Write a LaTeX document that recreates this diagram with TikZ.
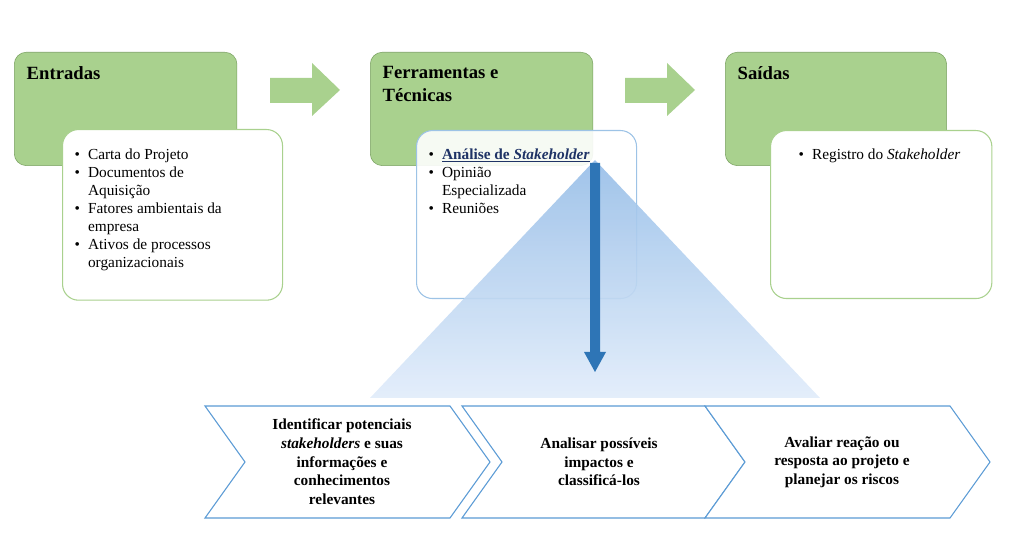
\documentclass[tikz,border=0pt]{standalone}
\usepackage{fontspec}
\setmainfont{Liberation Serif}
\definecolor{gfill}{RGB}{169,209,142}
\definecolor{gdraw}{RGB}{120,160,95}
\definecolor{bline}{RGB}{91,155,213}
\definecolor{btop}{RGB}{150,190,232}
\definecolor{bbot}{RGB}{225,236,250}
\definecolor{barrow}{RGB}{46,117,182}
\definecolor{blight}{RGB}{157,195,230}
\begin{document}
\begin{tikzpicture}[x=0.75pt,y=-0.75pt,
 gbox/.style={draw=gdraw, fill=gfill, rounded corners=9pt},
 wbox/.style={draw=gfill, fill=white, rounded corners=12pt, line width=0.8pt},
 ttl/.style={anchor=north west, font=\bfseries\fontsize{14}{17}\selectfont, align=left},
 lst/.style={anchor=north west, font=\fontsize{11.5}{13.5}\selectfont, align=left},
 blk/.style={fill=gfill},
 chev/.style={draw=bline, fill=white, line width=0.8pt},
 ctxt/.style={font=\bfseries\fontsize{11.5}{14}\selectfont, align=center}]
\useasboundingbox (0,0) rectangle (1024,555);
% green boxes
\node[gbox, minimum width=167pt, minimum height=85pt, anchor=north west] (g1) at (14,52) {};
\node[gbox, minimum width=167pt, minimum height=85pt, anchor=north west] (g2) at (370,52) {};
\node[gbox, minimum width=166pt, minimum height=85pt, anchor=north west] (g3) at (725,52) {};
\node[ttl] (t1) at (22,62) {Entradas};
\node[ttl] (t2) at (378,62) {Ferramentas e\\Técnicas};
\node[ttl] (t3) at (733,62) {Saídas};
% block arrows
\fill[blk] (270,78) -- (312,78) -- (312,63) -- (340,90) -- (312,116) -- (312,103) -- (270,103) -- cycle;
\fill[blk] (625,78) -- (667,78) -- (667,63) -- (695,90) -- (667,116) -- (667,103) -- (625,103) -- cycle;
% white boxes
\node[wbox, minimum width=165pt, minimum height=128pt, anchor=north west] (w1) at (62,129) {};
\node[wbox, draw=blight, fill opacity=0.9, minimum width=165pt, minimum height=126pt, anchor=north west] (w2) at (416,130) {};
\node[wbox, minimum width=166pt, minimum height=126pt, anchor=north west] (w3) at (770,130) {};
\node[lst] (l1) at (70,142) {\begin{tabular}{@{}l@{\hspace{6pt}}l@{}}
\textbullet& Carta do Projeto\\
\textbullet& Documentos de\\& Aquisição\\
\textbullet& Fatores ambientais da\\& empresa\\
\textbullet& Ativos de processos\\& organizacionais\end{tabular}};
\node[lst] (l3) at (794,142) {\begin{tabular}{@{}l@{\hspace{6pt}}l@{}}
\textbullet& Registro do \textit{Stakeholder}\end{tabular}};
% triangle
\shade[top color=btop, bottom color=bbot, opacity=0.9]
 (595,160) -- (820,398) -- (370,398) -- cycle;
\node[lst] (l2) at (424,142) {\begin{tabular}{@{}l@{\hspace{6pt}}l@{}}
\textbullet& \textcolor[rgb]{0.12,0.2,0.4}{\bfseries\underline{Análise de \textit{Stakeholder}}}\\
\textbullet& Opinião\\& Especializada\\
\textbullet& Reuniões\end{tabular}};
% down arrow
\fill[barrow] (590,163) -- (600,163) -- (600,352) -- (606,352) -- (595,372) -- (584,352) -- (590,352) -- cycle;
% chevrons
\draw[chev] (205,406) -- (450,406) -- (490,462) -- (450,518) -- (205,518) -- (245,462) -- cycle;
\draw[chev] (462,406) -- (705,406) -- (745,462) -- (705,518) -- (462,518) -- (502,462) -- cycle;
\draw[chev] (705,406) -- (950,406) -- (990,462) -- (950,518) -- (705,518) -- (745,462) -- cycle;
\node[ctxt] (c1) at (342,462) {Identificar potenciais\\\textit{stakeholders} e suas\\informações e\\conhecimentos\\relevantes};
\node[ctxt] (c2) at (599,462) {Analisar possíveis\\impactos e\\classificá-los};
\node[ctxt] (c3) at (842,462) {Avaliar reação ou\\resposta ao projeto e\\planejar os riscos};
\end{tikzpicture}
\end{document}
